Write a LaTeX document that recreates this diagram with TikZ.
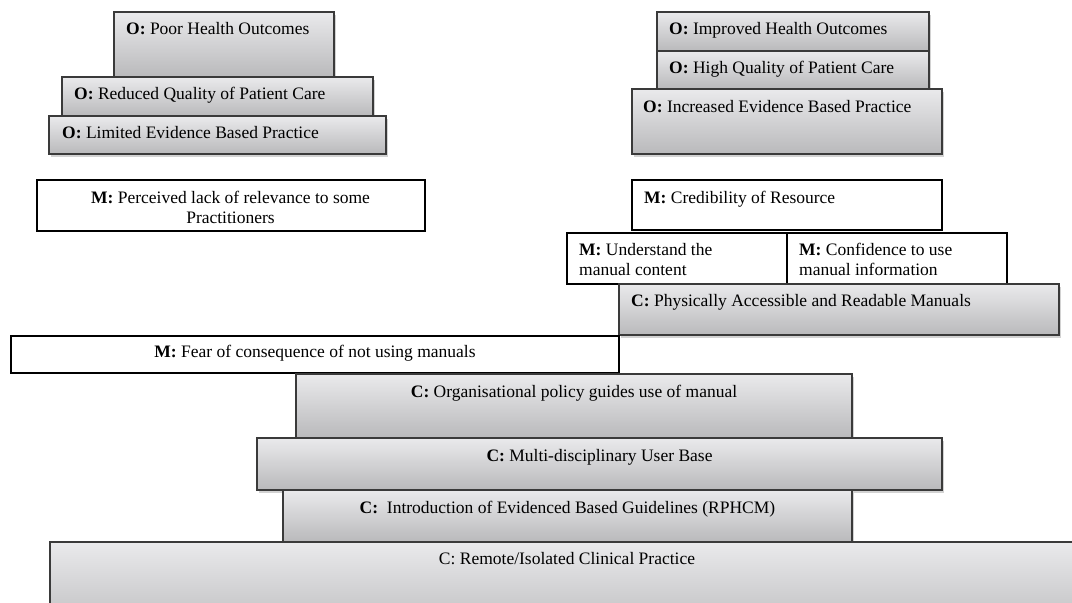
\documentclass[tikz,border=0pt]{standalone}
\usepackage{fontspec}
\setmainfont{Liberation Serif}
\usetikzlibrary{fit,shadows}
\definecolor{edgegray}{HTML}{3A3A3A}
\definecolor{topgray}{HTML}{EAEAEC}
\definecolor{botgray}{HTML}{B9B9BB}
\tikzset{
  gbox/.style={rectangle, draw=edgegray, line width=1.1pt, inner sep=0pt,
    top color=topgray, bottom color=botgray,
    drop shadow={opacity=0.25, shadow xshift=1.5pt, shadow yshift=-2.5pt, fill=black!70}},
  mbox/.style={rectangle, draw=black, line width=2.8pt, fill=white, inner sep=0pt},
  lbl/.style={inner sep=0pt, font=\fontsize{17.5}{20}\selectfont},
  lblc/.style={inner sep=0pt, font=\fontsize{17.5}{20}\selectfont, align=center},
}
\begin{document}
\begin{tikzpicture}[x=1pt,y=-1pt]
\useasboundingbox (0,0) rectangle (1072,603);
\begin{scope}
\clip (0,0) rectangle (1072,603);
% ---- left outcomes
\node[gbox, fit={(114,12) (334,77)}] (poor) {};
\node[gbox, fit={(62,77) (373,116)}] (reduced) {};
\node[gbox, fit={(49,116) (386,154)}] (limited) {};
\node[lbl, anchor=base west] (poor-t) at (126,34) {\textbf{O:} Poor Health Outcomes};
\node[lbl, anchor=base west] (reduced-t) at (74,99) {\textbf{O:} Reduced Quality of Patient Care};
\node[lbl, anchor=base west] (limited-t) at (62,138) {\textbf{O:} Limited Evidence Based Practice};
\node[mbox, fit={(37,180) (425,231)}] (perc) {};
\node[lblc, anchor=base] (perc-t) at (230.5,223) {\textbf{M:} Perceived lack of relevance to some\\Practitioners};
% ---- right outcomes
\node[gbox, fit={(657,12) (929,51)}] (improved) {};
\node[gbox, fit={(657,51) (929,89)}] (high) {};
\node[gbox, fit={(632,89) (942,154)}] (increased) {};
\node[lbl, anchor=base west] (improved-t) at (669,34) {\textbf{O:} Improved Health Outcomes};
\node[lbl, anchor=base west] (high-t) at (669,73) {\textbf{O:} High Quality of Patient Care};
\node[lbl, anchor=base west] (increased-t) at (643,112) {\textbf{O:} Increased Evidence Based Practice};
% ---- right mechanisms
\node[mbox, fit={(632,180) (942,230)}] (cred) {};
\node[lbl, anchor=base west] (cred-t) at (644,203) {\textbf{M:} Credibility of Resource};
\node[mbox, fit={(567,233) (787,284)}] (under) {};
\node[mbox, fit={(787,233) (1007,284)}] (conf) {};
\node[lbl, anchor=base west, align=left] (under-t) at (579,275) {\textbf{M:} Understand the\\manual content};
\node[lbl, anchor=base west, align=left] (conf-t) at (799,275) {\textbf{M:} Confidence to use\\manual information};
\node[gbox, fit={(619,284) (1059,335)}] (phys) {};
\node[lbl, anchor=base west] (phys-t) at (631,306) {\textbf{C:} Physically Accessible and Readable Manuals};
% ---- bottom stack
\node[mbox, fit={(11,336) (619,373)}] (fear) {};
\node[lbl, anchor=base] (fear-t) at (315,357) {\textbf{M:} Fear of consequence of not using manuals};
\node[gbox, fit={(296,374) (852,438)}] (org) {};
\node[lbl, anchor=base] (org-t) at (574,397) {\textbf{C:} Organisational policy guides use of manual};
\node[gbox, fit={(257,438) (942,490)}] (multi) {};
\node[lbl, anchor=base] (multi-t) at (599.5,461) {\textbf{C:} Multi-disciplinary User Base};
\node[gbox, fit={(283,490) (852,542)}] (intro) {};
\node[lbl, anchor=base] (intro-t) at (567.5,513) {\textbf{C:}\ \ Introduction of Evidenced Based Guidelines (RPHCM)};
\node[gbox, fit={(50,542) (1090,640)}] (remote) {};
\node[lbl, anchor=base] (remote-t) at (567,564) {C: Remote/Isolated Clinical Practice};
\end{scope}
\end{tikzpicture}
\end{document}
